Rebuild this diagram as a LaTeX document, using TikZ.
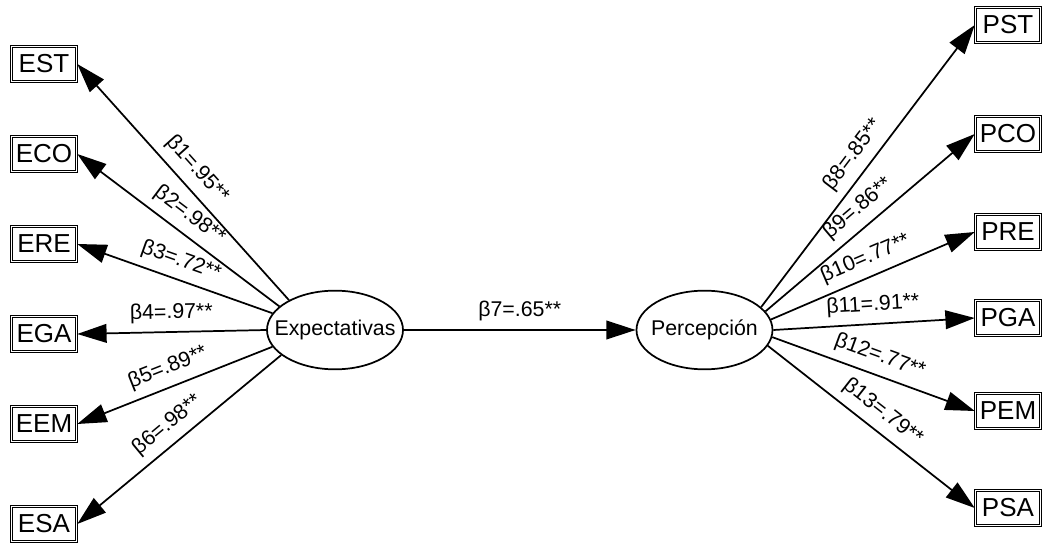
\documentclass[tikz,border=0pt]{standalone}
\usepackage{fontspec}
\setmainfont{Liberation Sans}
\usetikzlibrary{shapes.geometric, arrows.meta}

\begin{document}
\begin{tikzpicture}[x=0.75pt, y=-0.75pt,
          b/.style={draw, double, double distance=0.6pt, line width=0.9pt, minimum width=49pt, minimum height=26.5pt, inner sep=0pt, font=\fontsize{19.5}{20}\selectfont},
          lat/.style={draw, ellipse, line width=1.3pt, minimum width=102pt, minimum height=59pt, inner xsep=-10pt, inner ysep=13pt, font=\fontsize{16}{18}\selectfont},
          arr/.style={-{Triangle[length=22pt, width=14pt]}, line width=1.3pt},
          lbl/.style={sloped, above=4pt, inner sep=2pt, font=\fontsize{16}{18}\selectfont}]
        \useasboundingbox (0,0) rectangle (1043,545);
        % latent variables
        \node[lat] (ex) at (335,330) {Expectativas};
        \node[lat] (pc) at (704.5,330) {Percepción};
        % observed indicators
        \node[b] (EST) at (44,64) {EST};
        \node[b] (ECO) at (44,154) {ECO};
        \node[b] (ERE) at (44,244) {ERE};
        \node[b] (EGA) at (44,334) {EGA};
        \node[b] (EEM) at (44,424) {EEM};
        \node[b] (ESA) at (44,524) {ESA};
        \node[b] (PST) at (1008,25) {PST};
        \node[b] (PCO) at (1008,134) {PCO};
        \node[b] (PRE) at (1008,232) {PRE};
        \node[b] (PGA) at (1008,318) {PGA};
        \node[b] (PEM) at (1008,411) {PEM};
        \node[b] (PSA) at (1008,508) {PSA};
        % loadings
        \draw[arr] (ex.147) -- node[lbl] {β1=.95**} (EST.east);
        \draw[arr] (ex.157) -- node[lbl] {β2=.98**} (ECO.east);
        \draw[arr] (ex.165) -- node[lbl] {β3=.72**} (ERE.east);
        \draw[arr] (ex.180) -- node[lbl] {β4=.97**} (EGA.east);
        \draw[arr] (ex.195) -- node[lbl] {β5=.89**} (EEM.east);
        \draw[arr] (ex.205) -- node[lbl] {β6=.98**} (ESA.east);
        \draw[arr] (ex) -- node[lbl] {β7=.65**} (pc);
        \draw[arr] (pc.22) -- node[lbl] {β8=.85**} (PST.west);
        \draw[arr] (pc.17) -- node[lbl] {β9=.86**} (PCO.west);
        \draw[arr] (pc.9) -- node[lbl] {β10=.77**} (PRE.west);
        \draw[arr] (pc.0) -- node[lbl] {β11=.91**} (PGA.west);
        \draw[arr] (pc.-6) -- node[lbl] {β12=.77**} (PEM.west);
        \draw[arr] (pc.-14) -- node[lbl] {β13=.79**} (PSA.west);
      \end{tikzpicture}
\end{document}
